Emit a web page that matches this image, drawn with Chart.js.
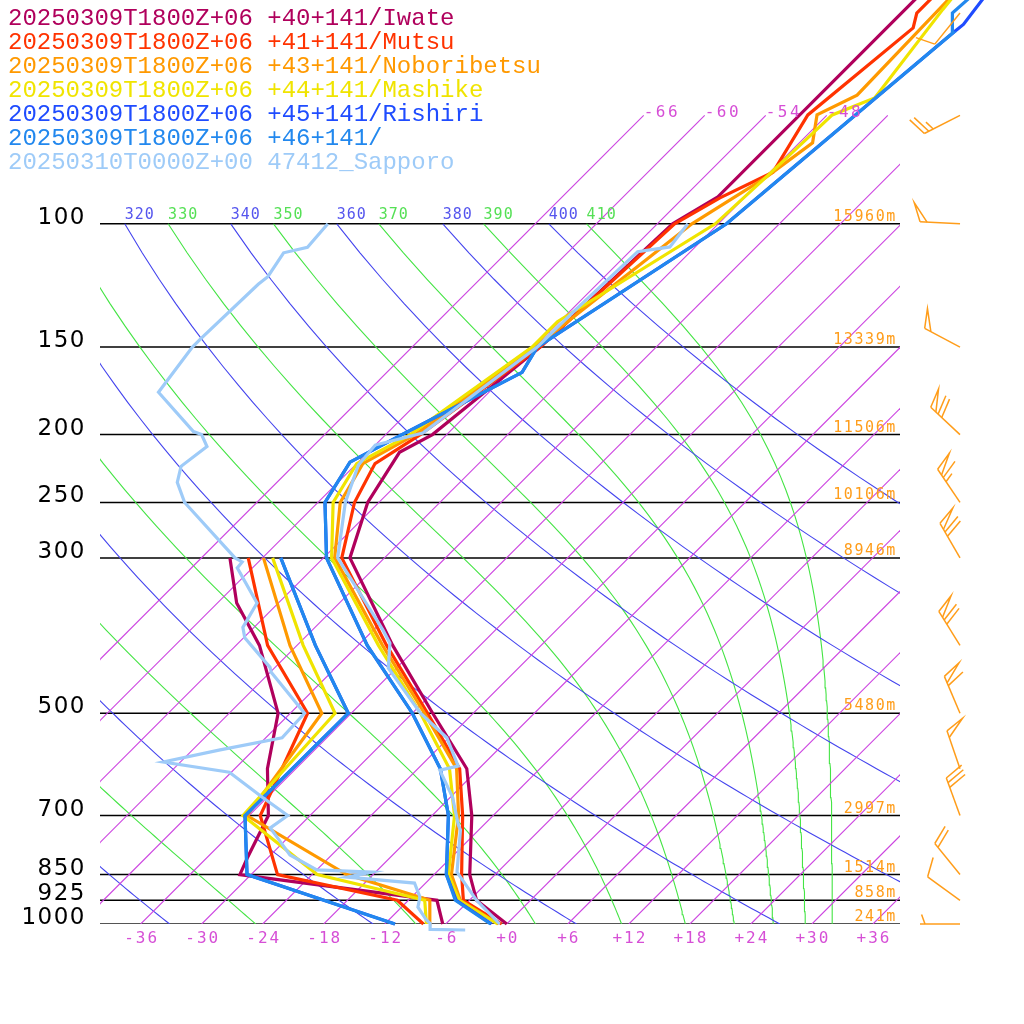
<!DOCTYPE html>
<html>
<head>
<meta charset="utf-8">
<script src="https://cdn.jsdelivr.net/npm/chart.js@4.4.1/dist/chart.umd.min.js"></script>
<style>html,body{margin:0;padding:0;background:#fff}</style>
</head>
<body>
<canvas id="skewt" width="1024" height="1024"></canvas>
<script>
// ---- data (pressure hPa, temperature degC) ----
const iwateTemp = [[1000,0.0],[925,-5.3],[850,-8.5],[700,-14.1],[600,-19.2],[500,-28.0],[400,-38.6],[300,-51.4],[250,-55.1],[212,-56.9],[200,-55.4],[150,-53.4],[100,-52.5],[91.5,-50.7],[45,-50.7]];
const mutsuTemp = [[1000,-0.5],[925,-6.6],[850,-9.3],[700,-15.0],[600,-19.9],[500,-28.5],[400,-39.2],[300,-52.2],[250,-56.4],[220,-58.2],[200,-56.6],[150,-53.4],[100,-52.3],[91.8,-50.4],[84.4,-47.7],[69.9,-49.9],[52.5,-48.1],[50,-49.2],[45,-49.2]];
const noboTemp = [[1000,-0.8],[925,-6.9],[850,-10.3],[700,-15.4],[600,-20.2],[500,-28.8],[400,-39.6],[300,-52.9],[250,-57.8],[220,-59.4],[200,-57.1],[150,-53.9],[100,-50.6],[85.9,-47.9],[76.6,-46.7],[69.9,-49.0],[65.5,-47.0],[45,-47.5]];
const mashikeTemp = [[1000,-0.9],[925,-7.0],[850,-10.6],[700,-15.8],[600,-20.9],[500,-29.2],[400,-40.0],[300,-53.2],[250,-58.5],[220,-60.0],[200,-57.6],[150,-54.2],[138,-54.2],[100,-48.3],[85.9,-47.9],[69.9,-47.5],[66.1,-45.0],[49.4,-47.0],[45,-47.5]];
const rishiriTemp = [[1000,-1.5],[925,-7.3],[850,-10.8],[700,-16.4],[600,-21.8],[500,-30.0],[400,-41.1],[300,-53.7],[250,-59.3],[219,-60.8],[200,-58.4],[163,-52.7],[150,-53.7],[100,-47.2],[53.4,-43.7],[51.9,-43.5],[45,-44.5]];
const p46Temp = [[1000,-1.6],[925,-7.4],[850,-10.8],[700,-16.4],[600,-21.8],[500,-30.0],[400,-41.1],[300,-53.7],[250,-59.3],[219,-60.8],[200,-58.4],[163,-52.7],[150,-53.7],[100,-47.2],[53.4,-43.7],[50,-45.7],[45,-45.3]];
const sapporoTemp = [[1000,-0.7],[925,-5.3],[843,-10.0],[734,-13.8],[722,-14.5],[659,-17.8],[603,-21.7],[595,-20.3],[542,-24.2],[500,-29.2],[431,-36.8],[397,-39.1],[380,-41.1],[300,-52.6],[250,-57.3],[221,-59.7],[207,-60.0],[199,-56.5],[150,-53.7],[132.7,-53.6],[109.6,-53.2],[107.9,-50.5],[100,-51.0]];

const iwateDew = [[1000,-6.3],[925,-9.2],[850,-31.1],[805,-32.0],[700,-34.1],[600,-38.8],[500,-43.2],[400,-51.7],[348,-58.1],[300,-63.2]];
const mutsuDew = [[1000,-8.2],[925,-13.1],[850,-27.4],[700,-34.9],[500,-40.3],[400,-50.9],[300,-61.4]];
const noboDew = [[1000,-7.6],[925,-9.9],[850,-20.6],[700,-36.2],[500,-38.9],[400,-48.7],[300,-59.9]];
const mashikeDew = [[1000,-7.9],[925,-10.4],[850,-23.5],[700,-36.6],[500,-37.6],[400,-47.4],[300,-59.0]];
const rishiriDew = [[1000,-11.0],[850,-30.4],[700,-36.4],[500,-36.3],[400,-46.2],[300,-58.2]];
const p46Dew = [[1000,-11.0],[850,-30.4],[700,-36.4],[500,-36.3],[400,-46.2],[300,-58.2]];
const sapporoDew = [[1020,-3.5],[1018,-7.0],[998,-7.6],[987,-8.3],[946,-10.4],[915,-11.2],[874,-13.1],[857,-20.3],[843,-18.4],[837,-24.0],[797,-28.1],[729,-32.7],[700,-32.2],[659,-36.5],[607,-42.2],[587,-49.7],[564,-45.3],[542,-40.4],[500,-40.6],[437,-47.9],[430,-48.5],[390,-53.9],[377,-55.1],[348,-56.1],[310,-61.5],[304,-61.6],[300,-62.7],[250,-73.1],[234,-75.8],[222,-77.0],[208,-76.4],[200,-78.1],[198,-79.2],[174,-86.5],[150,-87.6],[146,-87.6],[122,-87.3],[119,-87.1],[110,-87.9],[108,-86.1],[100,-86.4]];

const legendLabels = ['20250309T1800Z+06 +40+141/Iwate','20250309T1800Z+06 +41+141/Mutsu','20250309T1800Z+06 +43+141/Noboribetsu','20250309T1800Z+06 +44+141/Mashike','20250309T1800Z+06 +45+141/Rishiri','20250309T1800Z+06 +46+141/','20250310T0000Z+00 47412_Sapporo'];
const seriesColors = ['#b0005c','#ff3300','#ff9900','#f0e400','#1f4cff','#2288ee','#9ecbf8'];

const pressureLevels = [100,150,200,250,300,500,700,850,925,1000];
const heightLabels = ['15960m','13339m','11506m','10106m','8946m','5480m','2997m','1514m','858m','241m'];
const tempTicks = [-36,-30,-24,-18,-12,-6,0,6,12,18,24,30,36];
const isotherms = [-66,-60,-54,-48,-42,-36,-30,-24,-18,-12,-6,0,6,12,18,24,30,36];
const thetaLines = [200,220,240,260,280,300,320,340,360,380,400];
const thetaELines = [230,250,270,290,310,330,350,370,390,410];

const windP = [50,70,100,150,200,250,300,400,500,600,700,850,925,1000];
const windDir = [219,243,273,298,313,326,330,328,337,341,340,321,306,270];
const windKt = [10,25,50,50,70,65,70,70,60,50,30,20,10,5];

// ---- skew-T geometry ----
const X_MIN = -40, X_MAX = 38.66, SKEW = 68.8, P_TOP = 47.9, KAPPA = 0.283;
const skewX = (t, p) => t + SKEW * Math.log10(1000 / p);

function thetaE(tc, p) {
    const tk = tc + 273.15;
    const es = 6.112 * Math.exp(17.67 * tc / (tc + 243.5));
    const r = 1000 * 0.622 * es / (p - es);
    return tk * Math.pow(1000 / p, 0.2854 * (1 - 0.00028 * r)) *
        Math.exp(1.087 * (3.376 / tk - 0.00254) * r * (1 + 0.00081 * r));
}
function solveThetaE(te, p) {
    let lo = -140, hi = 50;
    for (let i = 0; i < 50; i++) {
        const mid = (lo + hi) / 2;
        if (thetaE(mid, p) < te) lo = mid; else hi = mid;
    }
    return (lo + hi) / 2;
}

const gridSets = [];
const levelsUp = [];
for (let p = 1000; p >= 100; p -= 10) levelsUp.push(p);

isotherms.forEach(t => gridSets.push({
    data: [{x: skewX(t, 1000), y: 1000}, {x: skewX(t, 70), y: 70}],
    borderColor: '#cc44e0', backgroundColor: '#cc44e0', borderWidth: 1.1
}));
thetaLines.forEach(th => gridSets.push({
    data: levelsUp.map(p => ({x: skewX(th * Math.pow(p / 1000, KAPPA) - 273.15, p), y: p})),
    borderColor: '#4444ee', backgroundColor: '#4444ee', borderWidth: 1.1
}));
thetaELines.forEach(te => gridSets.push({
    data: levelsUp.map(p => ({x: skewX(solveThetaE(te, p), p), y: p})),
    borderColor: '#44e444', backgroundColor: '#44e444', borderWidth: 1.1
}));
pressureLevels.forEach(p => gridSets.push({
    data: [{x: X_MIN, y: p}, {x: X_MAX, y: p}],
    borderColor: p === 1000 ? '#555' : '#000', borderWidth: p === 1000 ? 2 : 1.5
}));

const temps = [iwateTemp, mutsuTemp, noboTemp, mashikeTemp, rishiriTemp, p46Temp, sapporoTemp];
const dews = [iwateDew, mutsuDew, noboDew, mashikeDew, rishiriDew, p46Dew, sapporoDew];
const profileSets = [];
temps.forEach((arr, i) => {
    [arr, dews[i]].forEach(a => profileSets.push({
        data: a.map(([p, t]) => ({x: skewX(t, p), y: p})),
        borderColor: seriesColors[i], backgroundColor: seriesColors[i], borderWidth: 3.2,
        order: 20 - i, clip: {left: 0, top: 0, right: false, bottom: 10}
    }));
});

const allSets = gridSets.map(d => Object.assign({order: 100}, d)).concat(profileSets)
    .map(d => Object.assign({showLine: true, pointRadius: 0, fill: false, tension: 0}, d));

function drawBarb(ctx, bx, by, dir, kt) {
    const a = dir * Math.PI / 180, L = 40, bl = 20;
    const dx = Math.sin(a), dy = -Math.cos(a);
    const tx = bx + dx * L, ty = by + dy * L;
    const r = 70 * Math.PI / 180;
    const vx = dx * Math.cos(r) - dy * Math.sin(r), vy = dx * Math.sin(r) + dy * Math.cos(r);
    ctx.beginPath(); ctx.moveTo(bx, by); ctx.lineTo(tx, ty); ctx.stroke();
    let rem = Math.round(kt / 5) * 5, pos = 0;
    while (rem >= 50) {
        const x0 = tx - dx * pos, y0 = ty - dy * pos;
        ctx.beginPath(); ctx.moveTo(x0, y0); ctx.lineTo(x0 + vx * bl, y0 + vy * bl);
        ctx.lineTo(tx - dx * (pos + 7), ty - dy * (pos + 7)); ctx.stroke();
        pos += 10; rem -= 50;
    }
    while (rem >= 10) {
        const x0 = tx - dx * pos, y0 = ty - dy * pos;
        ctx.beginPath(); ctx.moveTo(x0, y0); ctx.lineTo(x0 + vx * bl, y0 + vy * bl); ctx.stroke();
        pos += 5; rem -= 10;
    }
    if (rem >= 5) {
        if (pos === 0) pos = 5;
        const x0 = tx - dx * pos, y0 = ty - dy * pos;
        ctx.beginPath(); ctx.moveTo(x0, y0); ctx.lineTo(x0 + vx * bl / 2, y0 + vy * bl / 2); ctx.stroke();
    }
}

const decorations = {
    id: 'decorations',
    afterDraw(chart) {
        const {ctx, chartArea: ca} = chart;
        const xs = chart.scales.x, ys = chart.scales.y;
        ctx.save();
        // pressure labels
        ctx.font = '23px "DejaVu Sans"'; ctx.letterSpacing = '1.5px';
        ctx.fillStyle = '#000'; ctx.textAlign = 'right'; ctx.textBaseline = 'alphabetic';
        pressureLevels.forEach(p => ctx.fillText(String(p), 86, ys.getPixelForValue(p)));
        // height labels
        ctx.font = '15px "DejaVu Sans Mono"'; ctx.letterSpacing = '1.6px';
        ctx.fillStyle = '#ff9d1a';
        pressureLevels.forEach((p, i) => ctx.fillText(heightLabels[i], ca.right - 3, ys.getPixelForValue(p) - 3));
        // temperature ticks
        ctx.font = '16px "DejaVu Sans Mono"'; ctx.letterSpacing = '2px';
        ctx.fillStyle = '#d64fd6'; ctx.textAlign = 'center';
        tempTicks.forEach(t => ctx.fillText((t >= 0 ? '+' : '') + t, xs.getPixelForValue(t) + 1, ca.bottom + 19));
        // isotherm labels at 70 hPa
        ctx.textAlign = 'left'; ctx.font = '16px "DejaVu Sans Mono"'; ctx.letterSpacing = '2.5px';
        isotherms.forEach(t => {
            const x = xs.getPixelForValue(skewX(t, 70));
            if (x < ca.right - 20) ctx.fillText(String(t), x, ys.getPixelForValue(70) + 2);
        });
        // adiabat labels at 100 hPa
        ctx.save();
        ctx.beginPath(); ctx.rect(ca.left, 0, ca.right - ca.left, ca.bottom); ctx.clip();
        ctx.font = '15px "DejaVu Sans Mono"'; ctx.letterSpacing = '1px';
        const y100 = ys.getPixelForValue(100) - 5;
        thetaLines.forEach(th => {
            ctx.fillStyle = '#5555ee';
            ctx.fillText(String(th), xs.getPixelForValue(skewX(th * Math.pow(0.1, KAPPA) - 273.15, 100)), y100);
        });
        thetaELines.forEach(te => {
            ctx.fillStyle = '#55e055';
            ctx.fillText(String(te), xs.getPixelForValue(skewX(solveThetaE(te, 100), 100)), y100);
        });
        ctx.restore();
        // legend
        ctx.font = '24px "Liberation Mono"'; ctx.letterSpacing = '0px'; ctx.textAlign = 'left';
        legendLabels.forEach((s, i) => {
            ctx.fillStyle = seriesColors[i];
            ctx.fillText(s, 8, 25 + i * 24);
        });
        // wind barbs
        ctx.strokeStyle = '#ff9d1a'; ctx.lineWidth = 1.5;
        windP.forEach((p, i) => drawBarb(ctx, ca.right + 60, ys.getPixelForValue(p), windDir[i], windKt[i]));
        ctx.restore();
    }
};

new Chart(document.getElementById('skewt'), {
    type: 'scatter',
    data: {datasets: allSets},
    options: {
        responsive: false, animation: false, devicePixelRatio: 1,
        layout: {padding: {left: 100, right: 124, top: 0, bottom: 100}},
        plugins: {legend: {display: false}, tooltip: {enabled: false}},
        scales: {
            x: {type: 'linear', min: X_MIN, max: X_MAX, display: false},
            y: {type: 'logarithmic', min: P_TOP, max: 1000, reverse: true, display: false}
        }
    },
    plugins: [decorations]
});
</script>
</body>
</html>
